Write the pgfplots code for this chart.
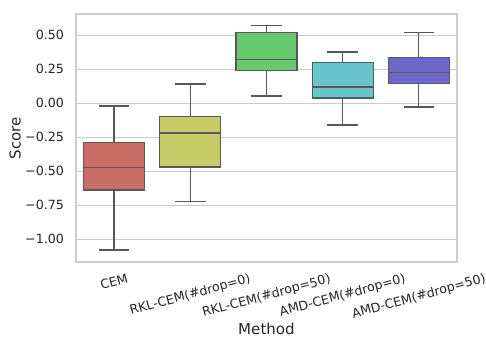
\documentclass[border=0pt]{standalone}
\usepackage{fontspec}
\setmainfont{DejaVu Sans}
\usepackage{graphicx}
\usepackage{pgfplots}
\pgfplotsset{compat=1.18}
\usepgfplotslibrary{statistics}
\definecolor{c1}{RGB}{203,109,103}
\definecolor{c2}{RGB}{197,203,103}
\definecolor{c3}{RGB}{103,203,109}
\definecolor{c4}{RGB}{103,197,203}
\definecolor{c5}{RGB}{109,103,203}
\definecolor{edgegray}{RGB}{88,88,88}
\definecolor{gridgray}{RGB}{204,204,204}
\definecolor{textgray}{RGB}{38,38,38}
\begin{document}
\begin{tikzpicture}
\begin{axis}[
  scale only axis, width=285.75pt, height=186pt,
  xmin=-0.5, xmax=4.5, ymin=-1.167, ymax=0.657,
  boxplot/draw direction=y,
  axis line style={color=gridgray, line width=0.94pt},
  ytick={-1,-0.75,-0.5,-0.25,0,0.25,0.5},
  yticklabels={−1.00,−0.75,−0.50,−0.25,0.00,0.25,0.50},
  xtick={0,1,2,3,4},
  xticklabels={\rotatebox{15}{CEM},\rotatebox{15}{RKL-CEM(\#drop=0)},\rotatebox{15}{RKL-CEM(\#drop=50)},\rotatebox{15}{AMD-CEM(\#drop=0)},\rotatebox{15}{AMD-CEM(\#drop=50)}},
  major tick length=0pt,
  ymajorgrids, grid style={gridgray, line width=0.75pt},
  tick label style={font=\fontsize{9.5}{11}\selectfont, text=textgray},
  yticklabel style={anchor=east, inner sep=0pt, xshift=-8.8pt},
  xticklabel style={anchor=north, inner sep=0pt, yshift=-8.25pt},
  xlabel={Method}, ylabel={Score},
  label style={font=\fontsize{11.3}{13}\selectfont, text=textgray},
  xlabel style={at={(axis description cs:0.5,-0.27)}, anchor=center},
  ylabel style={at={(axis description cs:-0.16,0.5)}, anchor=center},
  clip=false,
]
\addplot[boxplot prepared={draw position=0, lower whisker=-1.079, lower quartile=-0.638, median=-0.471, upper quartile=-0.290, upper whisker=-0.020, box extend=0.8, whisker extend=0.4}, fill=c1, draw=edgegray, line width=0.9pt] coordinates {};
\addplot[boxplot prepared={draw position=1, lower whisker=-0.724, lower quartile=-0.468, median=-0.218, upper quartile=-0.099, upper whisker=0.142, box extend=0.8, whisker extend=0.4}, fill=c2, draw=edgegray, line width=0.9pt] coordinates {};
\addplot[boxplot prepared={draw position=2, lower whisker=0.054, lower quartile=0.240, median=0.324, upper quartile=0.519, upper whisker=0.574, box extend=0.8, whisker extend=0.4}, fill=c3, draw=edgegray, line width=0.9pt] coordinates {};
\addplot[boxplot prepared={draw position=3, lower whisker=-0.160, lower quartile=0.039, median=0.120, upper quartile=0.301, upper whisker=0.377, box extend=0.8, whisker extend=0.4}, fill=c4, draw=edgegray, line width=0.9pt] coordinates {};
\addplot[boxplot prepared={draw position=4, lower whisker=-0.027, lower quartile=0.147, median=0.228, upper quartile=0.335, upper whisker=0.519, box extend=0.8, whisker extend=0.4}, fill=c5, draw=edgegray, line width=0.9pt] coordinates {};
\end{axis}
\pgfresetboundingbox
\path[use as bounding box] (current axis.south west) ++(-57pt,-57pt) rectangle ++(364.5pt,253.5pt);
\end{tikzpicture}
\end{document}
